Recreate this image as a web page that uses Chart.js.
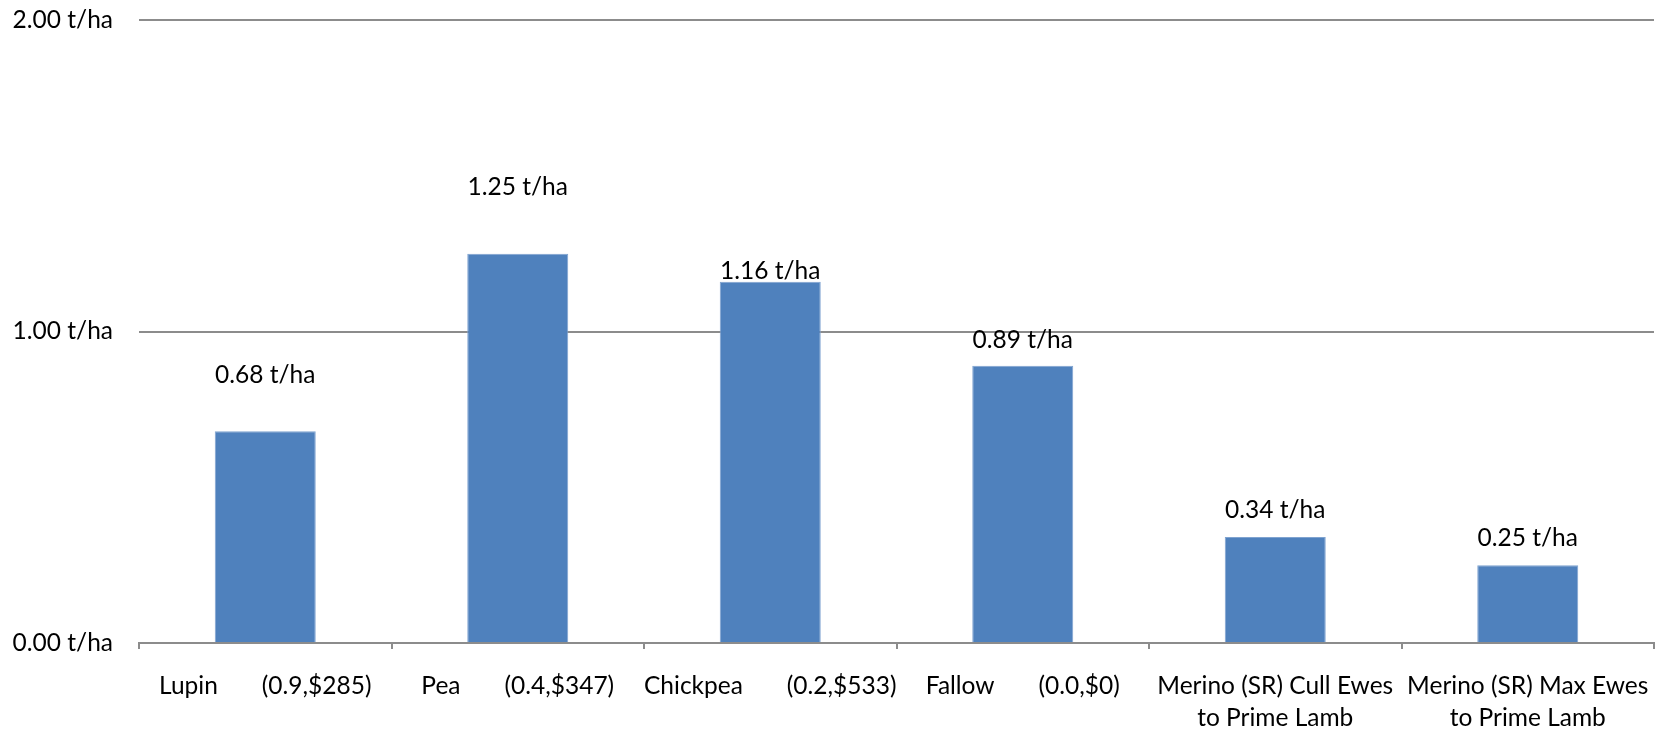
<!DOCTYPE html>
<html>
<head>
<meta charset="utf-8">
<script src="https://cdn.jsdelivr.net/npm/chart.js@4"></script>
<style>
  body { margin: 0; background: #fff; }
</style>
</head>
<body>
<canvas id="yieldChart" width="1667" height="732"></canvas>
<script>
// categories (multi-line labels as arrays)
const categories = [
    'Lupin       (0.9,$285)',
    'Pea       (0.4,$347)',
    'Chickpea       (0.2,$533)',
    'Fallow       (0.0,$0)',
    ['Merino (SR) Cull Ewes', 'to Prime Lamb'],
    ['Merino (SR) Max Ewes', 'to Prime Lamb']
];
const yieldValues = [0.68, 1.25, 1.16, 0.89, 0.34, 0.25];
const yTicks = [0, 1, 2];

// vertical gap (px) between the bar top and its value label, as in the original
const labelGap = [56, 67, 11, 26, 27, 27];

const fontFamily = 'Lato, "Open Sans", sans-serif';
const fontSize = 24.5;
const gridGray = '#8c8c8c';

const valueLabels = {
    id: 'valueLabels',
    afterDatasetsDraw(chart) {
        const ctx = chart.ctx;
        const meta = chart.getDatasetMeta(0);
        ctx.save();
        ctx.font = fontSize + 'px ' + fontFamily;
        ctx.fillStyle = '#000';
        ctx.textAlign = 'center';
        ctx.textBaseline = 'middle';
        meta.data.forEach((bar, i) => {
            ctx.fillText(yieldValues[i].toFixed(2) + ' t/ha', bar.x, bar.y - labelGap[i]);
        });
        ctx.restore();
    }
};

const ctx = document.getElementById('yieldChart').getContext('2d');
new Chart(ctx, {
    type: 'bar',
    data: {
        labels: categories,
        datasets: [{
            data: yieldValues,
            backgroundColor: '#4f81bd',
            borderColor: '#7fa3d0',
            borderWidth: 1,
            categoryPercentage: 1,
            barPercentage: 0.4
        }]
    },
    options: {
        responsive: false,
        animation: false,
        layout: { padding: { top: 20, right: 13, left: 0, bottom: 0 } },
        plugins: {
            legend: { display: false },
            tooltip: { enabled: false }
        },
        scales: {
            x: {
                grid: {
                    offset: true,
                    drawOnChartArea: false,
                    drawTicks: true,
                    tickLength: 6,
                    color: gridGray,
                    lineWidth: 2
                },
                border: { color: gridGray, width: 2 },
                ticks: {
                    color: '#000',
                    font: { family: fontFamily, size: fontSize, lineHeight: 1.3 },
                    padding: 21,
                    autoSkip: false,
                    maxRotation: 0,
                    minRotation: 0
                },
                afterFit(scale) {
                    scale.height = 89;
                    scale.paddingLeft = 0;
                    scale.paddingRight = 0;
                }
            },
            y: {
                min: 0,
                max: 2,
                afterBuildTicks(scale) {
                    scale.ticks = yTicks.map(v => ({ value: v }));
                },
                grid: {
                    color: gridGray,
                    lineWidth: 2,
                    drawTicks: false
                },
                border: { display: false },
                ticks: {
                    color: '#000',
                    font: { family: fontFamily, size: fontSize },
                    padding: 26,
                    callback: v => v.toFixed(2) + ' t/ha'
                },
                afterFit(scale) {
                    scale.width = 139;
                    scale.paddingTop = 0;
                    scale.paddingBottom = 0;
                }
            }
        }
    },
    plugins: [valueLabels]
});
</script>
</body>
</html>
